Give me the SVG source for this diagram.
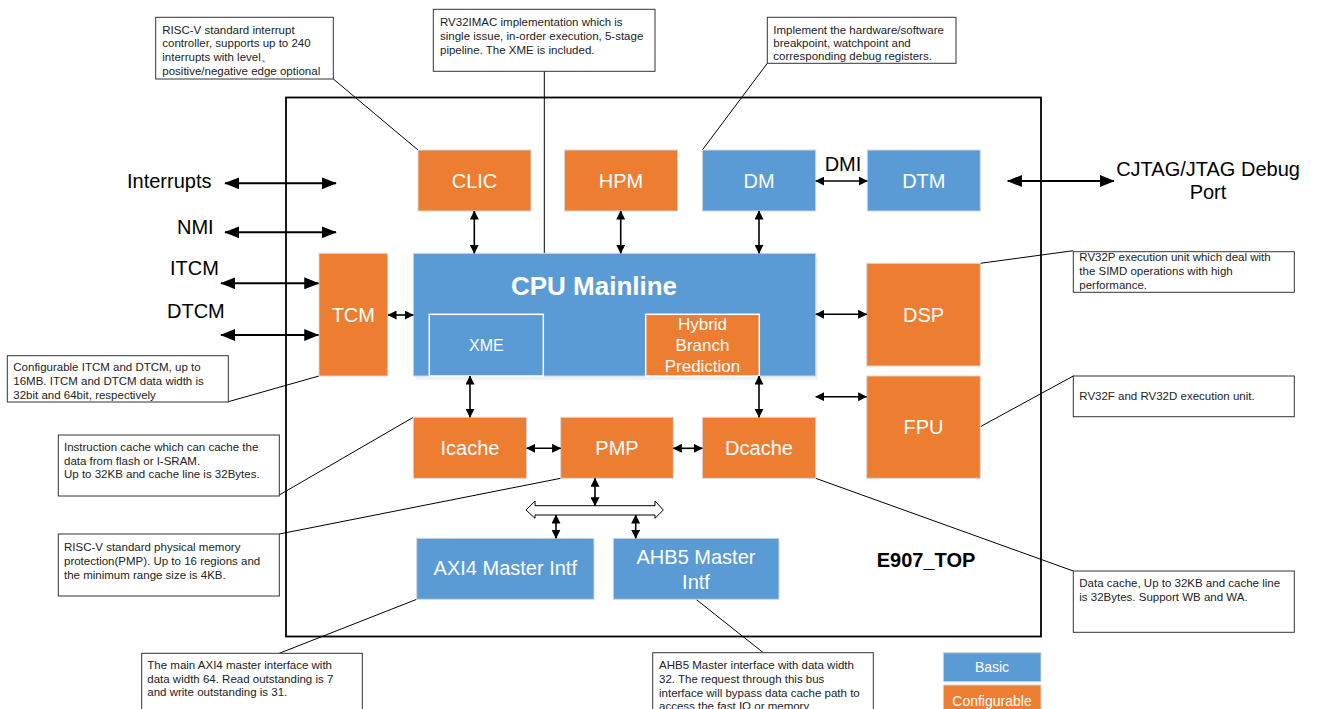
<svg xmlns="http://www.w3.org/2000/svg" width="1317" height="709" viewBox="0 0 1317 709">
<style>
.bg{fill:#ffffff}
.or{fill:#ED7D31;stroke:#d6d6d6;stroke-width:1}
.bl{fill:#5B9BD5;stroke:#d6d6d6;stroke-width:1}
.inner{stroke:#ffffff;stroke-width:1.5}
.wt{font-family:"Liberation Sans",Arial,sans-serif;font-size:20px;fill:#ffffff;text-anchor:middle}
.lbl{font-family:"Liberation Sans",Arial,sans-serif;font-size:20px;fill:#000000}
.note{font-family:"Liberation Sans",Arial,sans-serif;font-size:11.5px;fill:#222222}
.nbox{fill:#ffffff;stroke:#333333;stroke-width:1}
.lead{stroke:#000000;stroke-width:1;fill:none}
.ar{stroke:#000000;stroke-width:1.6;fill:none;marker-start:url(#hs);marker-end:url(#hs)}
.arb{stroke:#000000;stroke-width:2;fill:none;marker-start:url(#hb);marker-end:url(#hb)}
</style>
<defs>
<marker id="hs" viewBox="0 0 10 10" refX="9.5" refY="5" markerWidth="9" markerHeight="9" markerUnits="userSpaceOnUse" orient="auto-start-reverse"><path d="M0,0 L10,5 L0,10 z" fill="#000"/></marker>
<marker id="hb" viewBox="0 0 10 10" refX="9.5" refY="5" markerWidth="15" markerHeight="12" markerUnits="userSpaceOnUse" orient="auto-start-reverse" preserveAspectRatio="none"><path d="M0,0 L10,5 L0,10 z" fill="#000"/></marker>
</defs>
<rect class="bg" x="0" y="0" width="1317" height="709"/>

<g id="E907_TOP">
<rect x="286" y="97.5" width="755" height="539" fill="none" stroke="#000" stroke-width="1.8"/>
<text x="926" y="567" font-family="Liberation Sans,Arial,sans-serif" font-size="20" font-weight="bold" text-anchor="middle">E907_TOP</text>
</g>

<g id="leaders">
<line class="lead" x1="333.3" y1="79" x2="418" y2="150"/>
<line class="lead" x1="544.3" y1="71.3" x2="544.3" y2="253.5"/>
<line class="lead" x1="767.3" y1="63.3" x2="702.3" y2="150"/>
<line class="lead" x1="980.3" y1="263.3" x2="1073.3" y2="250.7"/>
<line class="lead" x1="980.3" y1="426.7" x2="1073.3" y2="376"/>
<line class="lead" x1="815.7" y1="478.3" x2="1073.3" y2="571"/>
<line class="lead" x1="228.3" y1="401.7" x2="319" y2="376"/>
<line class="lead" x1="279.3" y1="495" x2="413.3" y2="417.3"/>
<line class="lead" x1="279.3" y1="534" x2="560.7" y2="478.3"/>
<line class="lead" x1="279.3" y1="653.3" x2="416.7" y2="599.3"/>
<line class="lead" x1="696" y1="599.3" x2="763.3" y2="652.7"/>
</g>

<g id="CLIC"><rect class="or" x="418" y="150" width="113" height="61"/><text class="wt" x="474.5" y="187.5">CLIC</text></g>
<g id="HPM"><rect class="or" x="564.5" y="150" width="113" height="61"/><text class="wt" x="621" y="187.5">HPM</text></g>
<g id="DM"><rect class="bl" x="702.3" y="150" width="113.4" height="61"/><text class="wt" x="759" y="187.5">DM</text></g>
<g id="DTM"><rect class="bl" x="867.3" y="150" width="113" height="61"/><text class="wt" x="923.8" y="187.5">DTM</text></g>
<g id="TCM"><rect class="or" x="319" y="253.3" width="68.7" height="122.7"/><text class="wt" x="353.3" y="321.7">TCM</text></g>

<g id="CPU_Mainline">
<rect x="416" y="257" width="402" height="122.7" fill="#dbe6f1" opacity="0.5"/>
<rect class="bl" x="413.3" y="253.3" width="402.4" height="122.7"/>
<text x="594" y="295" font-family="Liberation Sans,Arial,sans-serif" font-size="26" font-weight="bold" fill="#fff" text-anchor="middle">CPU Mainline</text>
</g>
<g id="XME"><rect class="inner" x="429.3" y="314.3" width="114" height="61.7" fill="#5B9BD5"/><text x="486.3" y="350.5" font-family="Liberation Sans,Arial,sans-serif" font-size="16" fill="#fff" text-anchor="middle">XME</text></g>
<g id="HBP"><rect class="inner" x="645.7" y="314.3" width="113.6" height="61.7" fill="#ED7D31"/>
<text font-family="Liberation Sans,Arial,sans-serif" font-size="17" fill="#fff" text-anchor="middle"><tspan x="702.5" y="330">Hybrid</tspan><tspan x="702.5" y="351">Branch</tspan><tspan x="702.5" y="372">Prediction</tspan></text></g>

<g id="DSP"><rect class="or" x="866.7" y="263.3" width="113.6" height="102.7"/><text class="wt" x="923.5" y="321.7">DSP</text></g>
<g id="FPU"><rect class="or" x="866.7" y="376" width="113.6" height="102.3"/><text class="wt" x="923.5" y="434">FPU</text></g>
<g id="Icache"><rect class="or" x="413.3" y="417.3" width="113.4" height="61"/><text class="wt" x="470" y="455">Icache</text></g>
<g id="PMP"><rect class="or" x="560.7" y="417.3" width="112.6" height="61"/><text class="wt" x="617" y="455">PMP</text></g>
<g id="Dcache"><rect class="or" x="702.3" y="417.3" width="113.4" height="61"/><text class="wt" x="759" y="455">Dcache</text></g>
<g id="AXI4"><rect class="bl" x="416.7" y="538.3" width="177.3" height="61"/><text class="wt" x="505.3" y="575">AXI4 Master Intf</text></g>
<g id="AHB5"><rect class="bl" x="613.3" y="538.3" width="165.7" height="61"/><text class="wt"><tspan x="696" y="563.5">AHB5 Master</tspan><tspan x="696" y="588.5">Intf</tspan></text></g>

<g id="bus"><polygon points="526,510 535,501 535,505.7 655,505.7 655,501 663.3,510 655,518.3 655,515 535,515 535,518.3" fill="#fff" stroke="#000" stroke-width="1"/></g>

<g id="connectors">
<line class="arb" x1="225" y1="183.3" x2="336" y2="183.3"/>
<line class="arb" x1="225" y1="232.3" x2="336" y2="232.3"/>
<line class="arb" x1="221" y1="283.3" x2="318.5" y2="283.3"/>
<line class="arb" x1="221" y1="335" x2="318.5" y2="335"/>
<line class="arb" x1="1007.7" y1="181" x2="1114" y2="181"/>
<line class="ar" x1="815.7" y1="181" x2="867.3" y2="181"/>
<line class="ar" x1="474.3" y1="211" x2="474.3" y2="253.3"/>
<line class="ar" x1="620.7" y1="211" x2="620.7" y2="253.3"/>
<line class="ar" x1="759" y1="211" x2="759" y2="253.3"/>
<line class="ar" x1="388" y1="315" x2="413.3" y2="315"/>
<line class="ar" x1="815.7" y1="314.3" x2="866.7" y2="314.3"/>
<line class="ar" x1="815.7" y1="396.7" x2="866.7" y2="396.7"/>
<line class="ar" x1="470" y1="376" x2="470" y2="417.3"/>
<line class="ar" x1="759" y1="376" x2="759" y2="417.3"/>
<line class="ar" x1="526.7" y1="448.3" x2="560.7" y2="448.3"/>
<line class="ar" x1="673.3" y1="448.3" x2="702.3" y2="448.3"/>
<line class="ar" x1="595" y1="478.3" x2="595" y2="505.7"/>
<line class="ar" x1="556" y1="515" x2="556" y2="538.3"/>
<line class="ar" x1="635.7" y1="515" x2="635.7" y2="538.3"/>
</g>

<g id="external_labels">
<text class="lbl" x="127" y="187.5">Interrupts</text>
<text class="lbl" x="177" y="234.3">NMI</text>
<text class="lbl" x="170" y="275">ITCM</text>
<text class="lbl" x="167" y="317.6">DTCM</text>
<text class="lbl" x="843" y="171" text-anchor="middle">DMI</text>
<text class="lbl" text-anchor="middle"><tspan x="1208" y="175.5">CJTAG/JTAG Debug</tspan><tspan x="1208" y="199">Port</tspan></text>
</g>

<g id="note_CLIC"><rect class="nbox" x="155.7" y="17.3" width="177.6" height="61.7"/>
<text class="note"><tspan x="162.3" y="33.5">RISC-V standard interrupt</tspan><tspan x="162.3" y="47.3">controller, supports up to 240</tspan><tspan x="162.3" y="61.1">interrupts with level、</tspan><tspan x="162.3" y="74.9">positive/negative edge optional</tspan></text></g>

<g id="note_CPU"><rect class="nbox" x="433.3" y="9.3" width="221.7" height="62"/>
<text class="note"><tspan x="440" y="26">RV32IMAC implementation which is</tspan><tspan x="440" y="40">single issue, in-order execution, 5-stage</tspan><tspan x="440" y="54">pipeline. The XME is included.</tspan></text></g>

<g id="note_DM"><rect class="nbox" x="767.3" y="17.3" width="188.7" height="46"/>
<text class="note"><tspan x="773.3" y="33.5">Implement the hardware/software</tspan><tspan x="773.3" y="46.8">breakpoint, watchpoint and</tspan><tspan x="773.3" y="60.3">corresponding debug registers.</tspan></text></g>

<g id="note_DSP"><rect class="nbox" x="1073.3" y="251.7" width="221" height="40.6"/>
<text class="note"><tspan x="1079.3" y="261">RV32P execution unit which deal with</tspan><tspan x="1079.3" y="275">the SIMD operations with high</tspan><tspan x="1079.3" y="289">performance.</tspan></text></g>

<g id="note_FPU"><rect class="nbox" x="1073.3" y="376" width="221" height="40.7"/>
<text class="note" x="1079.3" y="400">RV32F and RV32D execution unit.</text></g>

<g id="note_Dcache"><rect class="nbox" x="1073.3" y="571" width="221" height="61.3"/>
<text class="note"><tspan x="1079.3" y="587.3">Data cache, Up to 32KB and cache line</tspan><tspan x="1079.3" y="601">is 32Bytes. Support WB and WA.</tspan></text></g>

<g id="note_TCM"><rect class="nbox" x="7.3" y="355.7" width="221" height="46.3"/>
<text class="note"><tspan x="13.3" y="370.7">Configurable ITCM and DTCM, up to</tspan><tspan x="13.3" y="385">16MB. ITCM and DTCM data width is</tspan><tspan x="13.3" y="399">32bit and 64bit, respectively</tspan></text></g>

<g id="note_Icache"><rect class="nbox" x="58.3" y="435" width="221" height="61"/>
<text class="note"><tspan x="64" y="450.7">Instruction cache which can cache the</tspan><tspan x="64" y="464.5">data from flash or I-SRAM.</tspan><tspan x="64" y="478.3">Up to 32KB and cache line is 32Bytes.</tspan></text></g>

<g id="note_PMP"><rect class="nbox" x="58.3" y="534" width="221" height="62"/>
<text class="note"><tspan x="64" y="550.7">RISC-V standard physical memory</tspan><tspan x="64" y="564.7">protection(PMP). Up to 16 regions and</tspan><tspan x="64" y="578.5">the minimum range size is 4KB.</tspan></text></g>

<g id="note_AXI4"><rect class="nbox" x="141.7" y="653.3" width="220.6" height="70"/>
<text class="note"><tspan x="147.3" y="669">The main AXI4 master interface with</tspan><tspan x="147.3" y="682.7">data width 64. Read outstanding is 7</tspan><tspan x="147.3" y="696.3">and write outstanding is 31.</tspan></text></g>

<g id="note_AHB5"><rect class="nbox" x="652.7" y="652.7" width="220.6" height="70"/>
<text class="note"><tspan x="659" y="669.3">AHB5 Master interface with data width</tspan><tspan x="659" y="682.5">32. The request through this bus</tspan><tspan x="659" y="696.5">interface will bypass data cache path to</tspan><tspan x="659" y="710">access the fast IO or memory.</tspan></text></g>

<g id="legend">
<rect class="bl" x="943.3" y="652.7" width="97.7" height="29"/><text x="992" y="671.7" font-family="Liberation Sans,Arial,sans-serif" font-size="14" fill="#fff" text-anchor="middle">Basic</text>
<rect class="or" x="943.3" y="685" width="97.7" height="31"/><text x="992" y="705.7" font-family="Liberation Sans,Arial,sans-serif" font-size="14" fill="#fff" text-anchor="middle">Configurable</text>
</g>
</svg>
